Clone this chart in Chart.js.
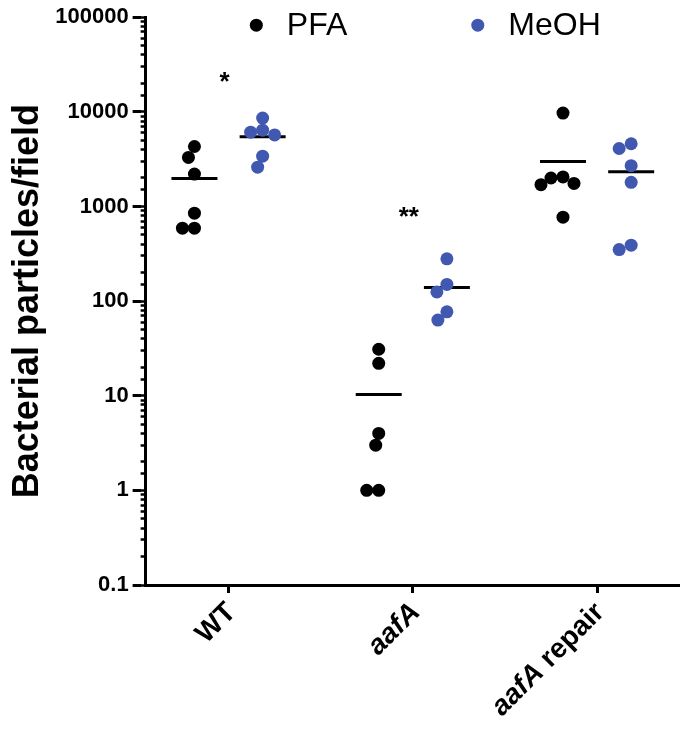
<!DOCTYPE html>
<html>
<head>
<meta charset="utf-8">
<script src="https://cdn.jsdelivr.net/npm/chart.js@4.4.1/dist/chart.umd.min.js"></script>
<style>
  html, body { margin: 0; padding: 0; background: #fff; }
</style>
</head>
<body>
<canvas id="grafico" width="680" height="742"></canvas>
<script>
// categorias del eje x y nombre del gen (va en cursiva)
const categorias = ['WT', 'aafA', 'aafA repair'];
const gen = 'aafA';

// particulas bacterianas por campo, una lista por categoria
const pfa = [
  [4300, 3300, 2200, 850, 590, 590],
  [31, 22, 4, 3, 1, 1],
  [9700, 2050, 2000, 1750, 1700, 770]
];
const meoh = [
  [8600, 6400, 6100, 5700, 3400, 2600],
  [280, 150, 125, 77, 63],
  [4600, 4100, 2700, 1800, 390, 350]
];

const series = ['PFA', 'MeOH'];
const colores = ['#000000', '#4058b0'];

// marcas de significancia
const asteriscos = ['*', '**', ''];
const alturaAsterisco = [20500, 750, null];

const ticksY = [0.1, 1, 10, 100, 1000, 10000, 100000];

const separacion = 0.185;
const fuente = '"Liberation Sans", Arial, sans-serif';

function media(lista) {
  return lista.reduce((a, b) => a + b, 0) / lista.length;
}

function puntos(grupos, lado) {
  let res = [];
  grupos.forEach((valores, i) => {
    valores.forEach(v => res.push({ x: i + lado * separacion, y: v, c: i + lado * separacion }));
  });
  return res;
}

function medias(grupos, lado) {
  return grupos.map((valores, i) => ({ x: i + lado * separacion, y: media(valores) }));
}

const extras = {
  id: 'extras',
  afterDraw(chart) {
    const { ctx, chartArea, scales: { x, y } } = chart;
    ctx.save();
    ctx.fillStyle = '#000';

    // etiquetas del eje x, giradas 45 grados
    categorias.forEach((cat, i) => {
      const px = x.getPixelForValue(i);
      ctx.save();
      ctx.translate(px + 3, chartArea.bottom + 23);
      ctx.rotate(-Math.PI / 4);
      ctx.textAlign = 'right';
      ctx.textBaseline = 'middle';
      let partes = cat.startsWith(gen) ? [[gen, true], [cat.slice(gen.length), false]] : [[cat, false]];
      let xx = 0;
      for (let k = partes.length - 1; k >= 0; k--) {
        ctx.font = (partes[k][1] ? 'italic ' : '') + 'bold 28px ' + fuente;
        ctx.fillText(partes[k][0], xx, 0);
        xx -= ctx.measureText(partes[k][0]).width;
      }
      ctx.restore();
    });

    // asteriscos
    ctx.font = 'bold 26px ' + fuente;
    ctx.textAlign = 'center';
    ctx.textBaseline = 'middle';
    asteriscos.forEach((a, i) => {
      if (!a) return;
      ctx.fillText(a, x.getPixelForValue(i) - 4, y.getPixelForValue(alturaAsterisco[i]));
    });

    // leyenda dentro del area del grafico
    ctx.font = '32px ' + fuente;
    ctx.textAlign = 'left';
    let xl = chartArea.left + chartArea.width * 0.195;
    const yl = chartArea.top + 8;
    series.forEach((s, i) => {
      ctx.fillStyle = colores[i];
      ctx.beginPath();
      ctx.arc(xl + 6.5, yl, 6.5, 0, Math.PI * 2);
      ctx.fill();
      ctx.fillStyle = '#000';
      ctx.fillText(s, xl + 37, yl + 1);
      xl += 37 + ctx.measureText(s).width + 124;
    });
    ctx.restore();
  }
};

const ctx = document.getElementById('grafico');

const grafico = new Chart(ctx, {
  type: 'scatter',
  data: {
    datasets: [
      { label: series[0], data: puntos(pfa, -1), backgroundColor: colores[0], pointRadius: 6.5, pointHoverRadius: 6.5, borderWidth: 0 },
      { label: series[1], data: puntos(meoh, 1), backgroundColor: colores[1], pointRadius: 6.5, pointHoverRadius: 6.5, borderWidth: 0 },
      { label: 'media PFA', data: medias(pfa, -1), pointStyle: 'line', pointRadius: 23, pointHoverRadius: 23, borderColor: '#000', borderWidth: 3 },
      { label: 'media MeOH', data: medias(meoh, 1), pointStyle: 'line', pointRadius: 23, pointHoverRadius: 23, borderColor: '#000', borderWidth: 3 }
    ]
  },
  options: {
    responsive: false,
    animation: false,
    events: [],
    layout: { autoPadding: false, padding: { top: 14, right: 0, bottom: 149, left: 4 } },
    scales: {
      x: {
        type: 'linear',
        min: -0.45,
        max: 2.45,
        afterBuildTicks: s => { s.ticks = categorias.map((c, i) => ({ value: i })); },
        ticks: { display: false },
        grid: { drawOnChartArea: false, tickLength: 8, tickWidth: 3, tickColor: '#000' },
        border: { color: '#000', width: 3 }
      },
      y: {
        type: 'logarithmic',
        position: 'left',
        weight: 1,
        min: 0.1,
        max: 100000,
        afterBuildTicks: s => { s.ticks = ticksY.map(v => ({ value: v, major: true })); },
        ticks: {
          autoSkip: false,
          color: '#000',
          padding: 4,
          font: { family: fuente, size: 22, weight: 'bold' },
          callback: v => String(v)
        },
        grid: { drawOnChartArea: false, tickLength: 8, tickWidth: 3, tickColor: '#000' },
        border: { display: false },
        title: {
          display: true,
          text: 'Bacterial particles/field',
          color: '#000',
          padding: { top: 2, bottom: 2 },
          font: { family: fuente, size: 36, weight: 'bold' }
        }
      },
      yMenor: {
        type: 'logarithmic',
        position: 'left',
        weight: 0,
        min: 0.1,
        max: 100000,
        ticks: { display: false, autoSkip: false },
        grid: { drawOnChartArea: false, tickLength: 5, tickWidth: 2.5, tickColor: '#000' },
        border: { color: '#000', width: 3 }
      }
    },
    plugins: {
      legend: { display: false },
      tooltip: { enabled: false }
    }
  },
  plugins: [extras]
});

// reparte los puntos de cada grupo para que no se tapen (tipo enjambre)
function enjambre(chart, indice) {
  const ds = chart.data.datasets[indice];
  const x = chart.scales.x, y = chart.scales.y;
  const porUnidad = x.getPixelForValue(1) - x.getPixelForValue(0);
  const diam = 12;
  const grupos = {};
  ds.data.forEach(p => { (grupos[p.c] = grupos[p.c] || []).push(p); });
  Object.values(grupos).forEach(g => {
    const puestos = [];
    g.slice().sort((a, b) => b.y - a.y).forEach(p => {
      const py = y.getPixelForValue(p.y);
      let off = 0;
      for (let k = 0; k < 400; k++) {
        const cand = (k % 2 ? -1 : 1) * Math.ceil(k / 2);
        const choca = puestos.some(q => (cand - q.off) ** 2 + (py - q.py) ** 2 < diam * diam);
        if (!choca) { off = cand; break; }
      }
      puestos.push({ off: off, py: py });
      p.x = p.c + off / porUnidad;
    });
  });
}

enjambre(grafico, 0);
enjambre(grafico, 1);
grafico.update();
</script>
</body>
</html>
